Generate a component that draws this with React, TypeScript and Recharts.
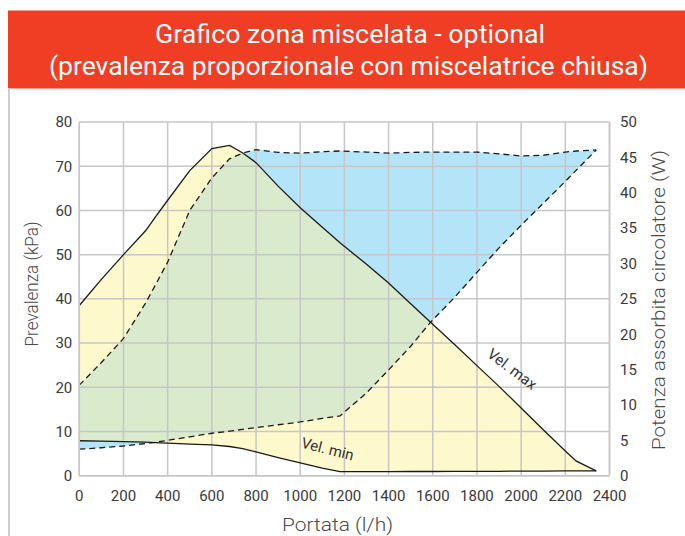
import React from 'react';
import { ComposedChart, Area, Line, XAxis, YAxis, CartesianGrid, ReferenceDot } from 'recharts';

// Portata (l/h) sample positions
const flowLh = [0, 100, 200, 300, 340, 400, 500, 600, 680, 740, 800, 900, 1000, 1100, 1180, 1300, 1400, 1500, 1590, 1700, 1800, 1900, 2000, 2100, 2200, 2250, 2340];
// Prevalenza at Vel. max (kPa)
const headMaxKpa = [38.5, 44.4, 50.0, 55.4, 58.2, 62.3, 69.0, 74.0, 74.7, 73.0, 70.8, 65.5, 60.6, 56.2, 52.7, 47.8, 43.6, 38.9, 34.7, 29.6, 24.9, 20.2, 15.3, 10.4, 5.6, 3.3, 1.1];
// Prevalenza at Vel. min (kPa)
const headMinKpa = [7.9, 7.8, 7.7, 7.6, 7.5, 7.35, 7.15, 6.95, 6.6, 6.1, 5.4, 4.1, 2.9, 1.7, 0.9, 0.9, 0.9, 0.95, 0.95, 1.0, 1.0, 1.0, 1.05, 1.05, 1.1, 1.1, 1.1];
// Potenza assorbita, upper dashed (W)
const powerMaxW = [12.8, 16.0, 19.4, 24.4, 26.7, 30.2, 37.5, 42.1, 44.8, 45.6, 46.1, 45.7, 45.6, 45.8, 45.9, 45.75, 45.6, 45.7, 45.75, 45.75, 45.75, 45.5, 45.2, 45.3, 45.75, 45.9, 46.05];
// Potenza assorbita, lower dashed (W)
const powerMinW = [3.75, 3.95, 4.2, 4.55, 4.7, 5.0, 5.5, 6.0, 6.3, 6.55, 6.8, 7.2, 7.6, 8.1, 8.45, 11.7, 14.95, 18.3, 21.7, 25.25, 28.75, 32.2, 35.4, 38.5, 41.6, 43.2, 46.05];

const xTicks = [0, 200, 400, 600, 800, 1000, 1200, 1400, 1600, 1800, 2000, 2200, 2400];
const leftTicks = [0, 10, 20, 30, 40, 50, 60, 70, 80];
const rightTicks = [0, 5, 10, 15, 20, 25, 30, 35, 40, 45, 50];

const LEFT_MAX = 80;
const RIGHT_MAX = 50;
const KPA_PER_W = LEFT_MAX / RIGHT_MAX;

// label anchor positions (data coords)
const velMaxLabel = { x: 1959, y: 24.1 };
const velMinLabel = { x: 1124, y: 6.0 };

const rows = flowLh.map((x, i) => {
  const lo = powerMinW[i] * KPA_PER_W;
  const hi = powerMaxW[i] * KPA_PER_W;
  const gLo = Math.max(headMinKpa[i], lo);
  const gHi = Math.min(headMaxKpa[i], hi);
  return {
    x,
    headMax: headMaxKpa[i],
    headMin: headMinKpa[i],
    powMax: powerMaxW[i],
    powMin: powerMinW[i],
    blue: [powerMinW[i], powerMaxW[i]],
    yellow: [headMinKpa[i], headMaxKpa[i]],
    green: gHi > gLo ? [gLo, gHi] : [gHi, gHi],
  };
});

const FONT = "Roboto, 'DejaVu Sans', sans-serif";
const GRID = '#c6c6c6';
const TICK = { fill: '#3a3a3a', fontSize: 15, fontFamily: FONT };

export default function App() {
  return (
    <div style={{ position: 'absolute', left: 0, top: 0, width: 685, height: 536, background: '#fff', overflow: 'hidden' }}>
      <svg width={685} height={536} style={{ position: 'absolute', left: 0, top: 0 }}>
        <rect x={8} y={10.5} width={677} height={78} fill="#ef3e23" />
        <line x1={9} y1={88} x2={9} y2={536} stroke="#c8c8c8" strokeWidth={1.8} />
        <text x={350} y={43.3} textAnchor="middle" fill="#fff" fontSize={25.5} fontFamily={FONT} textLength={390} lengthAdjust="spacingAndGlyphs">Grafico zona miscelata - optional</text>
        <text x={348.5} y={75} textAnchor="middle" fill="#fff" fontSize={25.5} fontFamily={FONT} textLength={599} lengthAdjust="spacingAndGlyphs">(prevalenza proporzionale con miscelatrice chiusa)</text>
      </svg>
      <div style={{ position: 'absolute', left: 0, top: 0 }}>
        <ComposedChart width={685} height={536} data={rows} margin={{ top: 122, right: 0, bottom: 30.3, left: 0 }}>
          <XAxis dataKey="x" type="number" domain={[0, 2400]} ticks={xTicks} interval={0} height={30}
            axisLine={{ stroke: GRID, strokeWidth: 1.5 }} tickLine={false} tickSize={6} tickMargin={9} tick={TICK} />
          <YAxis yAxisId="left" orientation="left" domain={[0, LEFT_MAX]} ticks={leftTicks} interval={0} width={79.3}
            axisLine={{ stroke: GRID, strokeWidth: 1.5 }} tickLine={false} tickSize={5} tickMargin={2} tick={TICK} />
          <YAxis yAxisId="right" orientation="right" domain={[0, RIGHT_MAX]} ticks={rightTicks} interval={0} width={75.5}
            axisLine={{ stroke: GRID, strokeWidth: 1.5 }} tickLine={false} tickSize={6} tickMargin={4.5} tick={{ ...TICK, textAnchor: 'start' }} />
          <Area yAxisId="right" dataKey="blue" type="linear" fill="#b4e4f7" fillOpacity={1} stroke="none" isAnimationActive={false} />
          <Area yAxisId="left" dataKey="yellow" type="linear" fill="#fef9cd" fillOpacity={1} stroke="none" isAnimationActive={false} />
          <Area yAxisId="left" dataKey="green" type="linear" fill="#d9ebcc" fillOpacity={1} stroke="none" isAnimationActive={false} />
          <CartesianGrid yAxisId="left" stroke={GRID} strokeWidth={1.5} zIndex={200} />
          <Line yAxisId="left" dataKey="headMax" type="linear" stroke="#1a1a1a" strokeWidth={1.3} dot={false} activeDot={false} isAnimationActive={false} />
          <Line yAxisId="left" dataKey="headMin" type="linear" stroke="#1a1a1a" strokeWidth={1.3} dot={false} activeDot={false} isAnimationActive={false} />
          <Line yAxisId="right" dataKey="powMax" type="linear" stroke="#1a1a1a" strokeWidth={1.3} strokeDasharray="6 4" dot={false} activeDot={false} isAnimationActive={false} />
          <Line yAxisId="right" dataKey="powMin" type="linear" stroke="#1a1a1a" strokeWidth={1.3} strokeDasharray="6 4" dot={false} activeDot={false} isAnimationActive={false} />
          <ReferenceDot yAxisId="left" x={velMaxLabel.x} y={velMaxLabel.y} r={0}
            shape={(p: any) => (
              <text x={p.cx} y={p.cy} transform={`rotate(37 ${p.cx} ${p.cy})`} textAnchor="middle" dominantBaseline="central" fill="#333" fontSize={15} fontFamily={FONT}>Vel. max</text>
            )} />
          <ReferenceDot yAxisId="left" x={velMinLabel.x} y={velMinLabel.y} r={0}
            shape={(p: any) => (
              <text x={p.cx} y={p.cy} transform={`rotate(14 ${p.cx} ${p.cy})`} textAnchor="middle" dominantBaseline="central" fill="#333" fontSize={15} fontFamily={FONT}>Vel. min</text>
            )} />
        </ComposedChart>
      </div>
      <svg width={685} height={536} style={{ position: 'absolute', left: 0, top: 0, pointerEvents: 'none' }}>
        <text x={31} y={284} transform="rotate(-90 31 284)" textAnchor="middle" dominantBaseline="central" fill="#4a4a4a" fontSize={19} fontWeight={300} fontFamily={FONT} textLength={125} lengthAdjust="spacingAndGlyphs">Prevalenza (kPa)</text>
        <text x={658} y={300} transform="rotate(-90 658 300)" textAnchor="middle" dominantBaseline="central" fill="#4a4a4a" fontSize={19} fontWeight={300} fontFamily={FONT} textLength={300} lengthAdjust="spacingAndGlyphs">Potenza assorbita circolatore (W)</text>
        <text x={337.5} y={524} textAnchor="middle" dominantBaseline="central" fill="#4a4a4a" fontSize={19} fontWeight={300} fontFamily={FONT} textLength={111} lengthAdjust="spacingAndGlyphs">Portata (l/h)</text>
      </svg>
    </div>
  );
}
